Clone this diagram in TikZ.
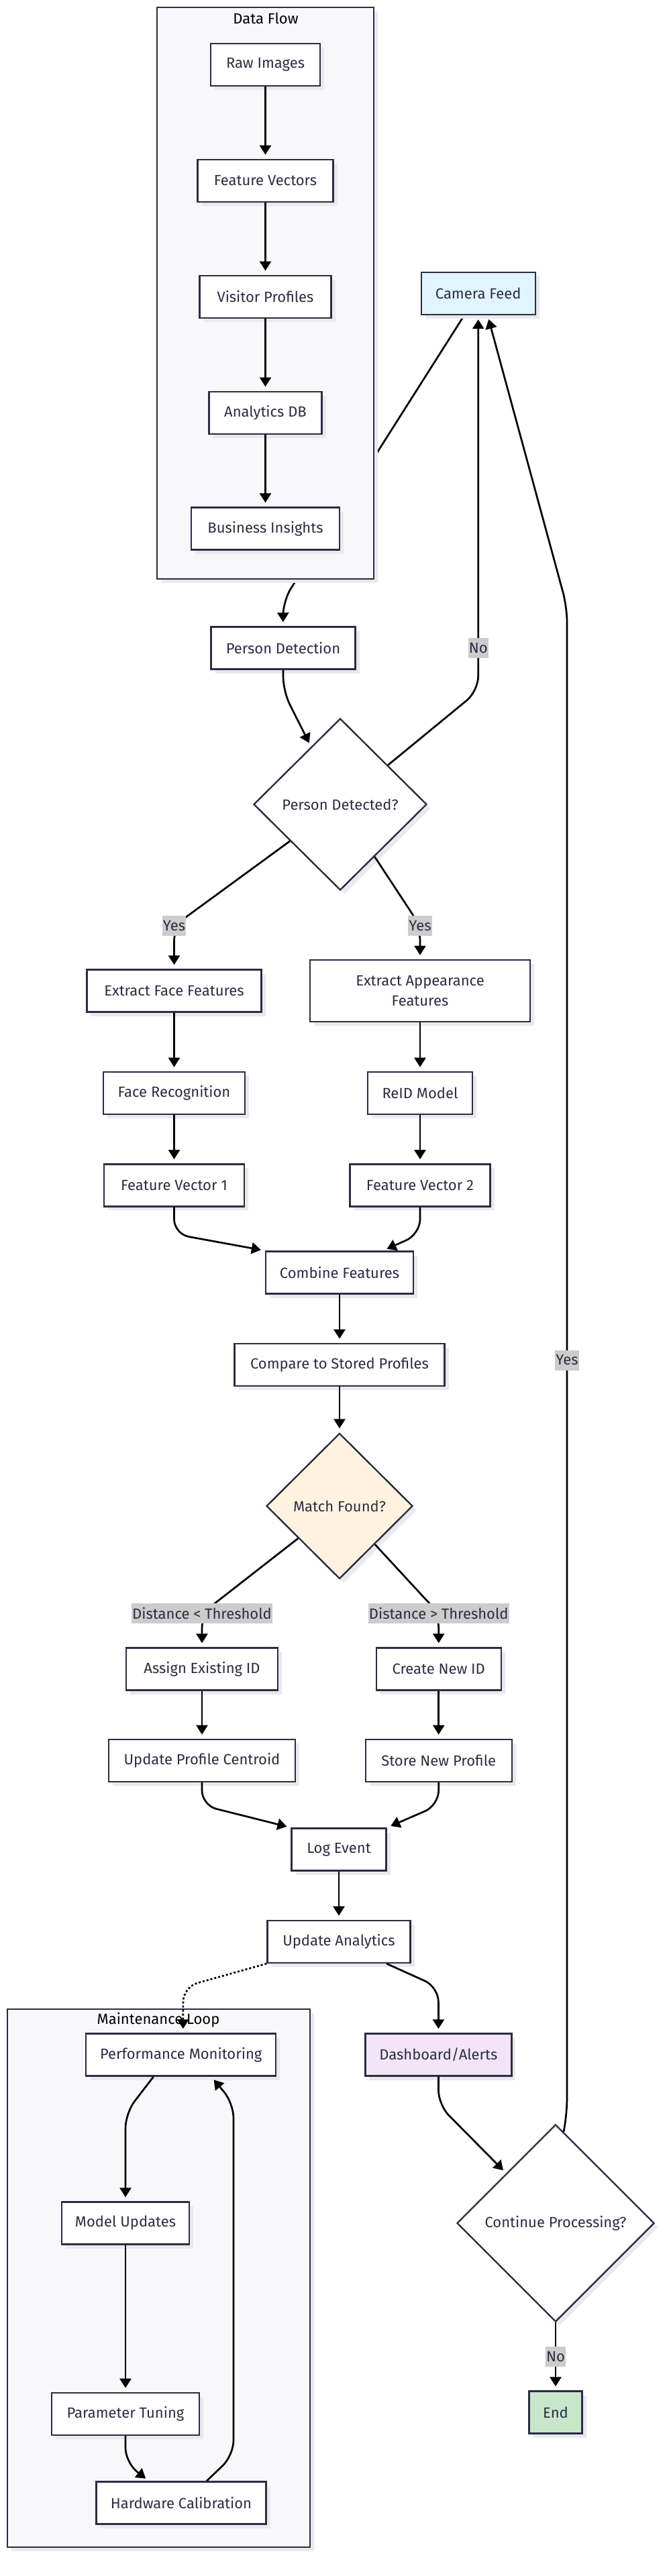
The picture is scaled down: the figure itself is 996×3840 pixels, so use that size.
\documentclass[tikz,border=0pt]{standalone}
\usepackage{fontspec}
\setmainfont{Fira Sans}
\usepackage{tikz}
\usetikzlibrary{arrows.meta, positioning, shapes.geometric, shadows}
\definecolor{ink}{HTML}{2C2C44}
\definecolor{lanefill}{HTML}{F8F8FA}
\definecolor{camfill}{HTML}{E1F5FE}
\definecolor{matchfill}{HTML}{FFF3E0}
\definecolor{dashfill}{HTML}{F3E5F5}
\definecolor{endfill}{HTML}{C8E6C9}
\definecolor{condfill}{HTML}{CCCCCC}
\definecolor{shade}{HTML}{E9E9EE}
\pgfdeclarelayer{under}
\pgfdeclarelayer{back}
\pgfsetlayers{under,back,main}
\tikzset{
	proc/.style={draw=ink, line width=2.4pt, fill=white, minimum height=63pt,
		inner sep=0pt, align=center, text=ink, font=\fontsize{22}{30}\selectfont,
		drop shadow={shadow xshift=6pt, shadow yshift=-6pt, fill=shade, opacity=1}},
	decide/.style={proc, diamond, aspect=1},
	lane/.style={draw=ink, line width=2.4pt, fill=lanefill,
		drop shadow={shadow xshift=6pt, shadow yshift=-6pt, fill=shade, opacity=1}},
	cond/.style={sharp corners, fill=condfill, text=ink, inner xsep=1pt, inner ysep=0pt,
		minimum height=30pt, font=\fontsize{22}{30}\selectfont},
	arr/.style={-{Triangle[length=14pt, width=17pt]}, line width=2.7pt,
		shorten >=6pt, rounded corners=22pt},
}

\begin{document}
\begin{tikzpicture}[x=1pt, y=-1pt]
	\useasboundingbox (0,0) rectangle (996,3840);
	% data flow column
	\node[proc, minimum width=163pt] (raw) at (395.5,96.5) {Raw Images};
	\node[proc, minimum width=202pt, below=107.5pt of raw] (fvec) {Feature Vectors};
	\node[proc, minimum width=196pt, below=107.5pt of fvec] (vprof) {Visitor Profiles};
	\node[proc, minimum width=168pt, below=107.5pt of vprof] (adb) {Analytics DB};
	\node[proc, minimum width=221pt, below=107.5pt of adb] (insight) {Business Insights};
	\node[proc, minimum width=170pt, fill=camfill] (camera) at (712.7,437.5) {Camera Feed};
	% detection
	\node[proc, minimum width=215pt] (pdet) at (422,966) {Person Detection};
	\node[decide, minimum width=258pt, minimum height=256pt] (dec1) at (507,1199) {Person Detected?};
	\node[proc, minimum width=260pt] (extface) at (259.5,1477) {Extract Face Features};
	\node[proc, minimum width=328pt, minimum height=92pt] (extapp) at (626,1477) {Extract Appearance\\Features};
	\node[proc, minimum width=211pt, below=87pt of extface] (facerec) {Face Recognition};
	\node[proc, minimum width=156pt, below=72.5pt of extapp] (reid) {ReID Model};
	\node[proc, minimum width=209pt, below=72pt of facerec] (fv1) {Feature Vector 1};
	\node[proc, minimum width=209pt, below=72pt of reid] (fv2) {Feature Vector 2};
	\node[proc, minimum width=220pt] (combine) at (506,1897) {Combine Features};
	\node[proc, minimum width=313pt, below=72pt of combine] (compare) {Compare to Stored Profiles};
	% matching
	\node[decide, minimum width=218pt, minimum height=217pt, fill=matchfill] (dec2) at (506,2245) {Match Found?};
	\node[proc, minimum width=226pt] (assign) at (301,2488) {Assign Existing ID};
	\node[proc, minimum width=186pt] (create) at (653.7,2488) {Create New ID};
	\node[proc, minimum width=278pt, below=71pt of assign] (upc) {Update Profile Centroid};
	\node[proc, minimum width=218pt, below=71pt of create] (snp) {Store New Profile};
	\node[proc, minimum width=141pt] (log) at (505,2757) {Log Event};
	\node[proc, minimum width=213pt, below=72pt of log] (ua) {Update Analytics};
	\node[proc, minimum width=218pt, fill=dashfill] (dash) at (653.4,3063) {Dashboard/Alerts};
	\node[decide, minimum width=294pt, minimum height=294pt] (cont) at (828,3314) {Continue Processing?};
	\node[proc, minimum width=79pt, fill=endfill] (end) at (828,3596) {End};
	% maintenance
	\node[proc, minimum width=283pt] (perf) at (269.7,3063) {Performance Monitoring};
	\node[proc, minimum width=190pt] (model) at (187,3314) {Model Updates};
	\node[proc, minimum width=220pt, below=219pt of model] (param) {Parameter Tuning};
	\node[proc, minimum width=253pt] (hw) at (270,3731) {Hardware Calibration};

	\begin{pgfonlayer}{back}
		\draw[lane] (234,11) rectangle (557,863);
		\node[font=\fontsize{22}{30}\selectfont] (dflabel) at (396,27) {Data Flow};
		\draw[lane] (11,2995) rectangle (462,3797);
		\node[font=\fontsize{22}{30}\selectfont] (mllabel) at (236,3011) {Maintenance Loop};
	\end{pgfonlayer}
	\begin{pgfonlayer}{under}
		\fill[white] (0,0) rectangle (996,3840);
		\draw[arr] ([xshift=-21pt]camera.south) -- (421.6,896) -- (pdet.north);
	\end{pgfonlayer}

	\foreach \a/\b in {raw/fvec, fvec/vprof, vprof/adb, adb/insight, extface/facerec, facerec/fv1,
		extapp/reid, reid/fv2, combine/compare, compare/dec2, assign/upc, create/snp, log/ua, model/param}
	\draw[arr] (\a) -- (\b);
	\draw[arr] (pdet.south) -- ++(0,32) -- (dec1);
	\draw[arr] (dec1) -- (712.7,1030) -- node[cond, pos=0.114] {No} (camera.south);
	\draw[arr] (dec1) -- (259.5,1380) node[cond] {Yes} -- (extface.north);
	\draw[arr] (dec1) -- (626,1380) node[cond] {Yes} -- (extapp.north);
	\draw[arr] (fv1.south) -- ++(0,40) -- (combine.north west);
	\draw[arr] (fv2.south) -- ++(0,40) -- ([xshift=65pt]combine.north);
	\draw[arr] (dec2) -- (301,2405) node[cond] {Distance < Threshold} -- (assign.north);
	\draw[arr] (dec2) -- (653.7,2405) node[cond] {Distance > Threshold} -- (create.north);
	\draw[arr] (upc.south) -- ++(0,34) -- (log.north west);
	\draw[arr] (snp.south) -- ++(0,34) -- (log.north east);
	\draw[arr, dash pattern=on 3pt off 3pt] (ua.south west) -- (273,2962) -- ([xshift=3pt]perf.north);
	\draw[arr] ([xshift=71pt]ua.south) -- (653.4,2962) -- (dash.north);
	\draw[arr] ([xshift=-41pt]perf.south) -- (187,3150) -- (model.north);
	\draw[arr] (param.south) -- ++(0,40) -- ([xshift=-48pt]hw.north);
	\draw[arr] ([xshift=38pt]hw.north) -- (348,3660) -- (348,3135) -- ([xshift=45pt]perf.south);
	\draw[arr] (dash.south) -- ++(0,42) -- (cont);
	\draw[arr] (cont) -- node[cond] {No} (end);
	\draw[arr] ([xshift=12pt,yshift=-12pt]cont.north) -- (845,3150) -- node[cond] {Yes} (845,905) -- ([xshift=14pt]camera.south);
\end{tikzpicture}
\end{document}
